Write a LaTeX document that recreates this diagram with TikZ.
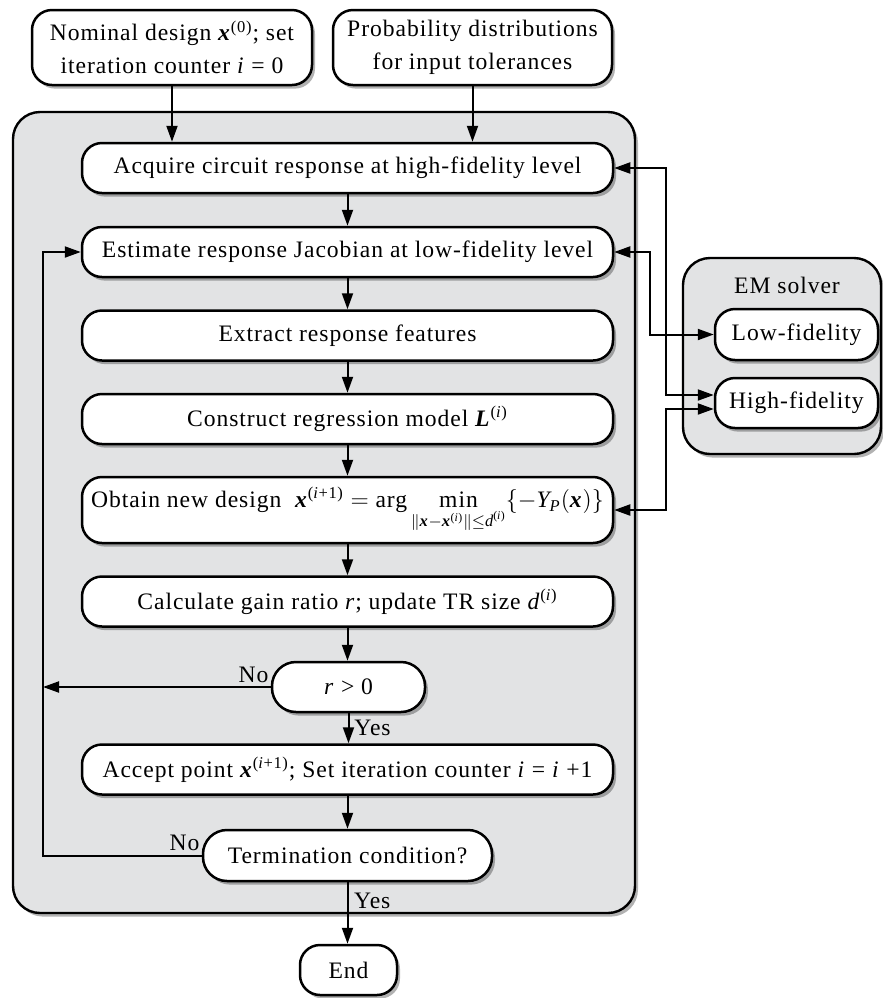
\documentclass[tikz,border=0pt]{standalone}
\usepackage{amsmath}
\usepackage{fontspec}
\setmainfont{Liberation Serif}[LetterSpace=4]
\usetikzlibrary{arrows.meta,shadows,calc}
\definecolor{panel}{RGB}{226,227,228}
\newcommand{\vx}{\textbf{\textit{x}}}
\newcommand{\vL}{\textbf{\textit{L}}}
\begin{document}
\begin{tikzpicture}[x=0.5pt,y=-0.5pt,
  font=\fontsize{11.8}{16.5}\selectfont,
  shad/.style={drop shadow={shadow xshift=1.5pt,shadow yshift=-1.8pt,opacity=0.3,fill=black}},
  box/.style={draw,line width=1.25pt,fill=white,rounded corners=10pt,align=center,inner sep=0pt,shad},
  proc/.style={box,minimum width=265.5pt,minimum height=25pt},
  panelbox/.style={draw,line width=1.2pt,fill=panel,rounded corners=13.5pt,inner sep=0pt,shad},
  tip/.tip={Triangle[length=8pt,width=5.5pt]},
  arr/.style={line width=1pt,-tip},
  dbl/.style={line width=1pt,tip-tip},
  lbl/.style={inner sep=1pt}]
\useasboundingbox (0,0) rectangle (883,998);

% panels
\node[panelbox,minimum width=311pt,minimum height=400.5pt] (main) at (324,512.5) {};
\node[panelbox,minimum width=99pt,minimum height=98pt] (em) at (782,356) {};
\node (emt) at (787,285) {EM solver};

% top boxes
\node[box,minimum width=140pt,minimum height=37.5pt] (nom) at (172,47.5)
  {Nominal design $\vx^{\text{(0)}}$; set\\iteration counter \textit{i} = 0};
\node[box,minimum width=139.5pt,minimum height=37.5pt] (prob) at (472.5,47.5)
  {Probability distributions\\for input tolerances};

% process column
\node[proc] (acq) at (347.5,168) {Acquire circuit response at high-fidelity level};
\node[proc] (est) at (347.5,252) {Estimate response Jacobian at low-fidelity level};
\node[proc] (ext) at (347.5,335.5) {Extract response features};
\node[proc] (con) at (347.5,419) {Construct regression model $\vL^{\text{(\textit{i})}}$};
\node[proc,minimum height=33pt] (obt) at (347.5,510)
  {Obtain new design~ $\vx^{\text{(\textit{i}+1)}} = \text{arg}\mathop{\text{min}}\limits_{\|\vx-\vx^{\text{(\textit{i})}}\|\le \textit{d}^{\text{(\textit{i})}}}\{-\textit{Y}_{\textit{P}}(\vx)\}$};
\node[proc] (cal) at (347.5,601.5) {Calculate gain ratio \textit{r}; update TR size \textit{d}$^{\text{(\textit{i})}}$};
\node[box,rounded corners=12pt,minimum width=76.5pt,minimum height=25pt] (rz) at (348.5,687) {\textit{r} > 0};
\node[proc] (acc) at (347.5,769.5) {Accept point $\vx^{\text{(\textit{i}+1)}}$; Set iteration counter \textit{i} = \textit{i} +1};
\node[box,rounded corners=12pt,minimum width=144.5pt,minimum height=25.5pt] (term) at (347.5,855.5) {Termination condition?};
\node[box,minimum width=48.5pt,minimum height=25pt] (endn) at (348.5,970) {End};

% EM solver boxes
\node[box,minimum width=81.5pt,minimum height=25.5pt] (low) at (796.5,334.5) {Low-fidelity};
\node[box,minimum width=81.5pt,minimum height=25pt] (high) at (796.5,403) {High-fidelity};

% helper coordinates
\coordinate (loopx) at (43,0);
\coordinate (rxa) at (666,0);
\coordinate (rxb) at (650,0);

% main flow
\draw[arr] (nom.south) -- (nom.south |- acq.north);
\draw[arr] (prob.south) -- (prob.south |- acq.north);
\draw[arr] (acq.south) -- (est.north);
\draw[arr] (est.south) -- (ext.north);
\draw[arr] (ext.south) -- (con.north);
\draw[arr] (con.south) -- (obt.north);
\draw[arr] (obt.south) -- (cal.north);
\draw[arr] (cal.south) -- (cal.south |- rz.north);
\draw[arr] (rz.south) -- (rz.south |- acc.north);
\draw[arr] (acc.south) -- (acc.south |- term.north);
\draw[arr] (term.south) -- (term.south |- endn.north);

% loops
\draw[arr] (rz.west) -- (rz.west -| loopx);
\draw[arr] (term.west) -| (loopx |- est.west) -- (est.west);

% EM connections
\draw[dbl] (acq.east) -- (acq.east -| rxa) |- ([yshift=4pt]high.west);
\draw[dbl] (est.east) -- (est.east -| rxb) |- (low.west);
\draw[dbl] (obt.east) -- (obt.east -| rxa) |- ([yshift=-3pt]high.west);

% labels
\node[lbl,anchor=south east] at ([yshift=1pt]rz.west) {No};
\node[lbl,anchor=west] at ([xshift=2pt]$(rz.south)!0.5!(acc.north)$) {Yes};
\node[lbl,anchor=south east] at ([yshift=1pt]term.west) {No};
\node[lbl,anchor=west] at ([xshift=2pt]$(term.south)!0.3!(endn.north)$) {Yes};
\end{tikzpicture}
\end{document}
